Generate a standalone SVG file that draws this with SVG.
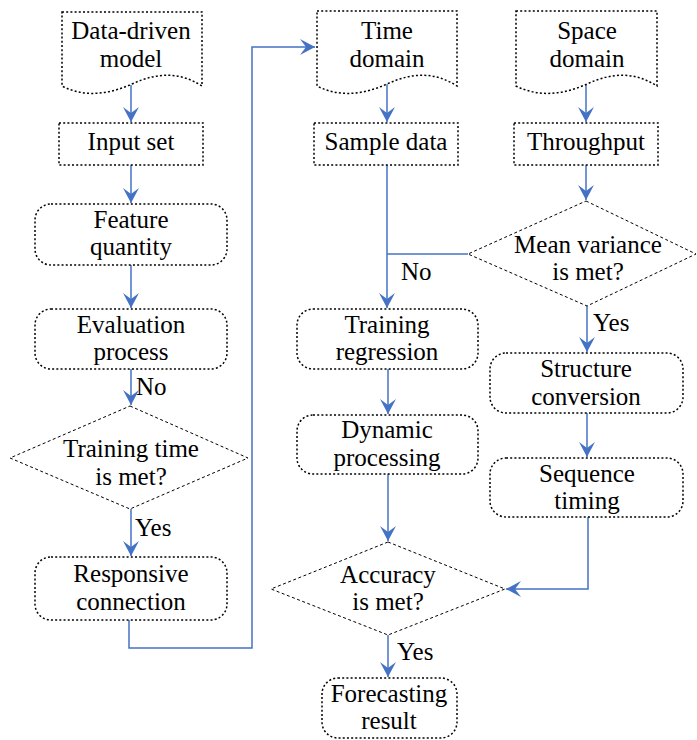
<svg xmlns="http://www.w3.org/2000/svg" width="697" height="740" viewBox="0 0 697 740">
<style>
.box{fill:#fff;stroke:#000;stroke-width:1.5;stroke-dasharray:2 2.2}
.dia{fill:#fff;stroke:#000;stroke-width:1;stroke-dasharray:3 2.5}
.c{fill:none;stroke:#4472C4;stroke-width:1.5}
</style>
<defs>
<marker id="ah" markerUnits="userSpaceOnUse" markerWidth="20" markerHeight="20" viewBox="-16 -10 18 20" refX="0" refY="0" orient="auto">
<path d="M0,0 L-15,-8 L-9,0 L-15,8 Z" fill="#4472C4"/>
</marker>
</defs>
<rect width="697" height="740" fill="#fff"/>
<g id="connectors">
<path class="c" d="M131,85 V122" marker-end="url(#ah)"/>
<path class="c" d="M131,165 V203" marker-end="url(#ah)"/>
<path class="c" d="M131,265 V308" marker-end="url(#ah)"/>
<path class="c" d="M131,369 V405" marker-end="url(#ah)"/>
<path class="c" d="M131,509 V556" marker-end="url(#ah)"/>
<path class="c" d="M129,620 V648 H252 V47 H315" marker-end="url(#ah)"/>
<path class="c" d="M387,84 V122" marker-end="url(#ah)"/>
<path class="c" d="M387,165 V308" marker-end="url(#ah)"/>
<path class="c" d="M468,254 H387"/>
<path class="c" d="M586,84 V122" marker-end="url(#ah)"/>
<path class="c" d="M586,165 V200" marker-end="url(#ah)"/>
<path class="c" d="M587,306 V352" marker-end="url(#ah)"/>
<path class="c" d="M587,413 V457" marker-end="url(#ah)"/>
<path class="c" d="M388,369 V414" marker-end="url(#ah)"/>
<path class="c" d="M388,474 V541" marker-end="url(#ah)"/>
<path class="c" d="M588,517 V589 H506" marker-end="url(#ah)"/>
<path class="c" d="M388,635 V677" marker-end="url(#ah)"/>
<text x="136" y="395" font-family="Liberation Serif, serif" font-size="25">No</text>
<text x="135" y="536" font-family="Liberation Serif, serif" font-size="25">Yes</text>
<text x="401" y="280" font-family="Liberation Serif, serif" font-size="25">No</text>
<text x="593" y="331" font-family="Liberation Serif, serif" font-size="25">Yes</text>
<text x="397" y="660" font-family="Liberation Serif, serif" font-size="25">Yes</text>
</g>
<g id="data-driven-model">
<path class="box" d="M62,12 H202 V86 C180,72 158,72 132,84 C110,94 85,98 62,86 Z"/>
<text x="131" y="39" font-family="Liberation Serif, serif" font-size="25" text-anchor="middle">Data-driven</text>
<text x="131" y="67" font-family="Liberation Serif, serif" font-size="25" text-anchor="middle">model</text>
</g>
<g id="input-set">
<rect class="box" x="59" y="123" width="144" height="42"/>
<text x="131" y="150" font-family="Liberation Serif, serif" font-size="25" text-anchor="middle">Input set</text>
</g>
<g id="feature-quantity">
<rect class="box" x="35" y="204" width="192" height="61" rx="16"/>
<text x="131" y="228" font-family="Liberation Serif, serif" font-size="25" text-anchor="middle">Feature</text>
<text x="131" y="255" font-family="Liberation Serif, serif" font-size="25" text-anchor="middle">quantity</text>
</g>
<g id="evaluation-process">
<rect class="box" x="35" y="309" width="192" height="60" rx="16"/>
<text x="131" y="333" font-family="Liberation Serif, serif" font-size="25" text-anchor="middle">Evaluation</text>
<text x="131" y="360" font-family="Liberation Serif, serif" font-size="25" text-anchor="middle">process</text>
</g>
<g id="training-time">
<path class="dia" d="M130,406 L248,458 L130,509 L10,458 Z"/>
<text x="131" y="457" font-family="Liberation Serif, serif" font-size="25" text-anchor="middle">Training time</text>
<text x="131" y="485" font-family="Liberation Serif, serif" font-size="25" text-anchor="middle">is met?</text>
</g>
<g id="responsive-connection">
<rect class="box" x="35" y="557" width="192" height="63" rx="16"/>
<text x="131" y="582" font-family="Liberation Serif, serif" font-size="25" text-anchor="middle">Responsive</text>
<text x="131" y="610" font-family="Liberation Serif, serif" font-size="25" text-anchor="middle">connection</text>
</g>
<g id="time-domain">
<path class="box" d="M317,11 H457 V86 C435,72 413,72 387,84 C365,94 340,98 317,86 Z"/>
<text x="387" y="39" font-family="Liberation Serif, serif" font-size="25" text-anchor="middle">Time</text>
<text x="387" y="67" font-family="Liberation Serif, serif" font-size="25" text-anchor="middle">domain</text>
</g>
<g id="space-domain">
<path class="box" d="M516,11 H657 V86 C635,72 613,72 587,84 C565,94 540,98 516,86 Z"/>
<text x="587" y="39" font-family="Liberation Serif, serif" font-size="25" text-anchor="middle">Space</text>
<text x="587" y="67" font-family="Liberation Serif, serif" font-size="25" text-anchor="middle">domain</text>
</g>
<g id="sample-data">
<rect class="box" x="314" y="123" width="144" height="42"/>
<text x="386" y="150" font-family="Liberation Serif, serif" font-size="25" text-anchor="middle">Sample data</text>
</g>
<g id="throughput">
<rect class="box" x="514" y="123" width="144" height="42"/>
<text x="586" y="150" font-family="Liberation Serif, serif" font-size="25" text-anchor="middle">Throughput</text>
</g>
<g id="mean-variance">
<path class="dia" d="M586,201 L696,254 L587,306 L468,254 Z"/>
<text x="588" y="253" font-family="Liberation Serif, serif" font-size="25" text-anchor="middle">Mean variance</text>
<text x="588" y="280" font-family="Liberation Serif, serif" font-size="25" text-anchor="middle">is met?</text>
</g>
<g id="training-regression">
<rect class="box" x="297" y="309" width="181" height="60" rx="16"/>
<text x="387" y="333" font-family="Liberation Serif, serif" font-size="25" text-anchor="middle">Training</text>
<text x="387" y="360" font-family="Liberation Serif, serif" font-size="25" text-anchor="middle">regression</text>
</g>
<g id="dynamic-processing">
<rect class="box" x="297" y="415" width="181" height="59" rx="16"/>
<text x="387" y="438" font-family="Liberation Serif, serif" font-size="25" text-anchor="middle">Dynamic</text>
<text x="387" y="466" font-family="Liberation Serif, serif" font-size="25" text-anchor="middle">processing</text>
</g>
<g id="structure-conversion">
<rect class="box" x="490" y="353" width="193" height="60" rx="16"/>
<text x="586" y="377" font-family="Liberation Serif, serif" font-size="25" text-anchor="middle">Structure</text>
<text x="586" y="405" font-family="Liberation Serif, serif" font-size="25" text-anchor="middle">conversion</text>
</g>
<g id="sequence-timing">
<rect class="box" x="490" y="458" width="193" height="59" rx="16"/>
<text x="587" y="482" font-family="Liberation Serif, serif" font-size="25" text-anchor="middle">Sequence</text>
<text x="587" y="509" font-family="Liberation Serif, serif" font-size="25" text-anchor="middle">timing</text>
</g>
<g id="accuracy">
<path class="dia" d="M388,542 L505,589 L388,635 L271,589 Z"/>
<text x="388" y="583" font-family="Liberation Serif, serif" font-size="25" text-anchor="middle">Accuracy</text>
<text x="388" y="610" font-family="Liberation Serif, serif" font-size="25" text-anchor="middle">is met?</text>
</g>
<g id="forecasting-result">
<rect class="box" x="322" y="678" width="135" height="60" rx="16"/>
<text x="389" y="702" font-family="Liberation Serif, serif" font-size="25" text-anchor="middle">Forecasting</text>
<text x="389" y="729" font-family="Liberation Serif, serif" font-size="25" text-anchor="middle">result</text>
</g>
</svg>
